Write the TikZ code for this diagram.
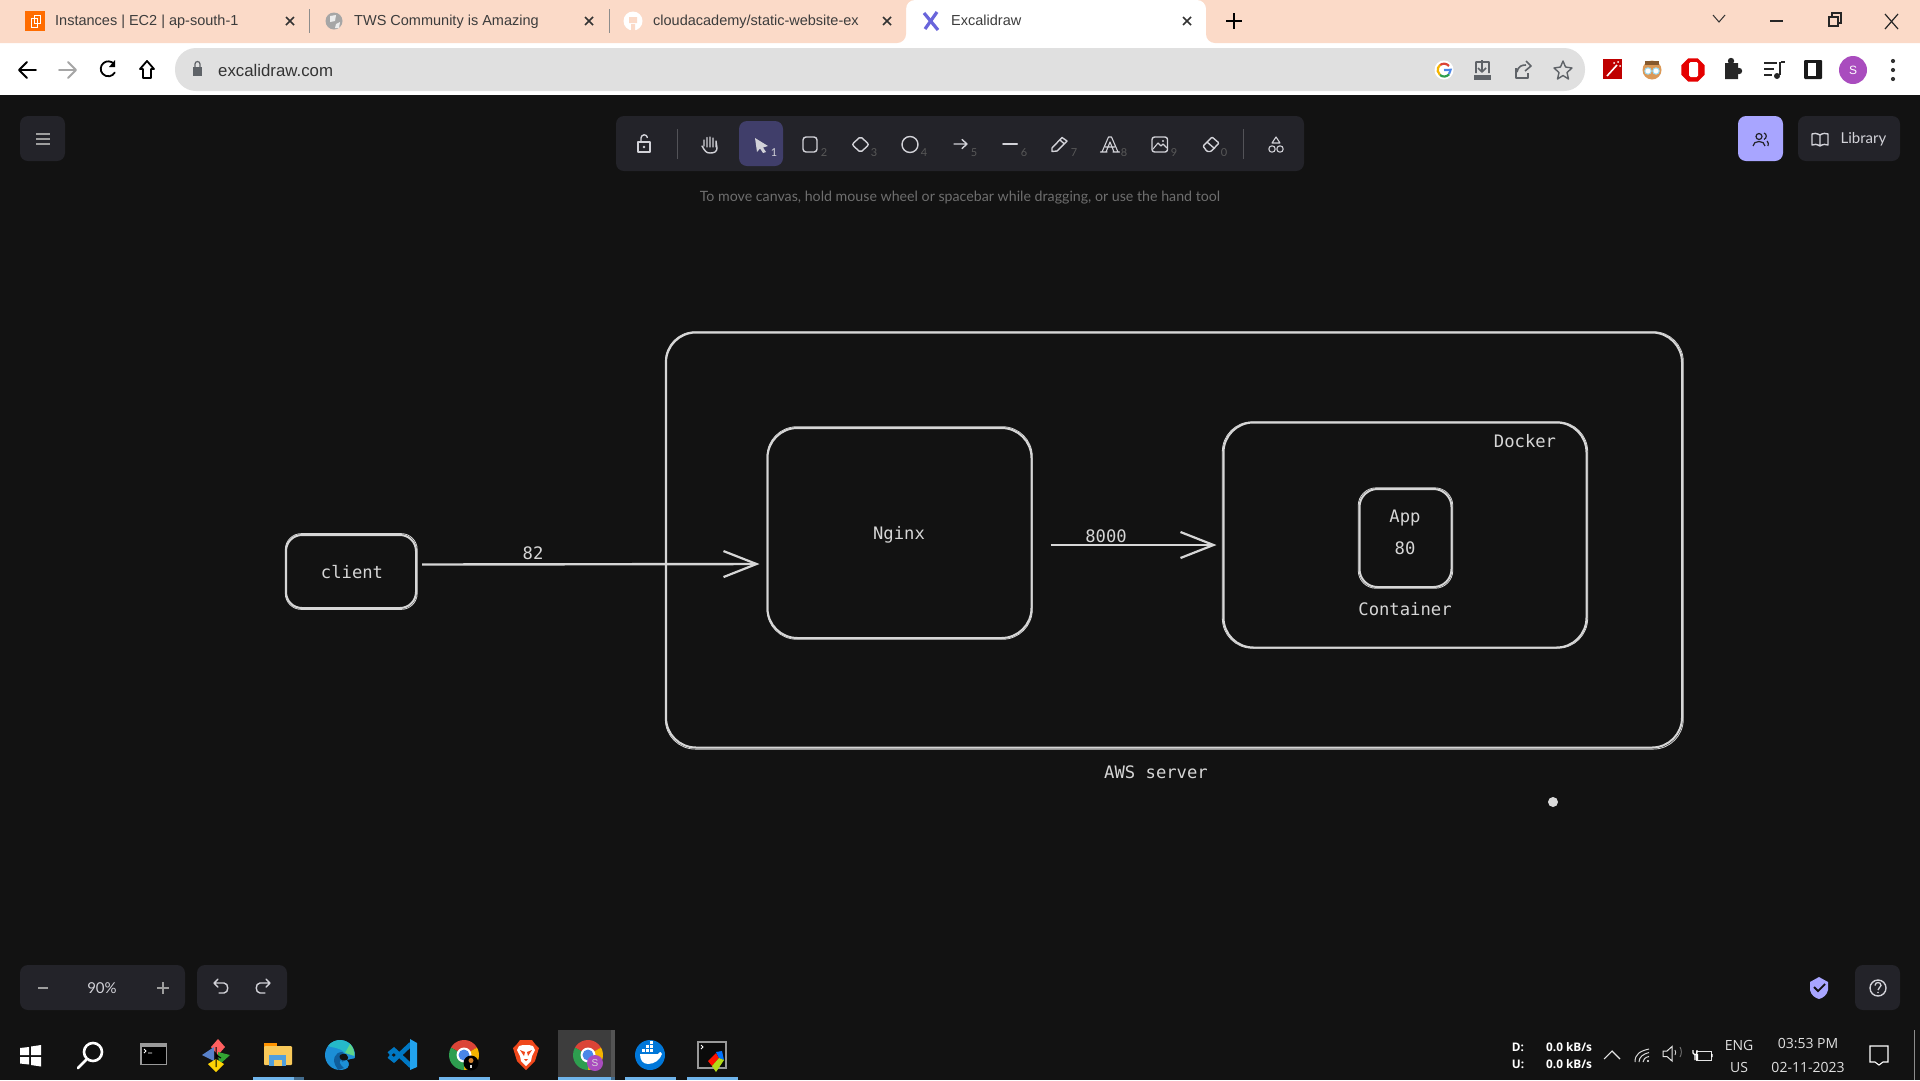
\documentclass[tikz,border=0pt]{standalone}
\usepackage{fontspec}
\setmainfont{Liberation Sans}
\newfontfamily\monof{DejaVu Sans Mono}
\newfontfamily\latof{Lato}
\newfontfamily\opf{Open Sans}
\usetikzlibrary{arrows.meta,calc,shapes.geometric}
\definecolor{bg}{HTML}{121212}
\definecolor{ink}{HTML}{D6D6D6}
\definecolor{peach}{HTML}{FBDAC8}
\definecolor{pill}{HTML}{E0E0E0}
\definecolor{panel}{HTML}{232329}
\definecolor{active}{HTML}{403E6A}
\definecolor{lav}{HTML}{A8A5FF}
\definecolor{hint}{HTML}{6E6E6E}
\definecolor{tool}{HTML}{D2D2D8}
\definecolor{tabtxt}{HTML}{3C3C3C}
\definecolor{chrm}{HTML}{5F6368}
\definecolor{tbline}{HTML}{6FB4EA}
\definecolor{gblue}{HTML}{4A86E8}
\definecolor{gred}{HTML}{DB4437}
\definecolor{gyel}{HTML}{F4B400}
\definecolor{ggrn}{HTML}{2E9E4F}
\definecolor{excal}{HTML}{6965DB}
\definecolor{purp}{HTML}{A94CBE}
\definecolor{bravec}{HTML}{F0481C}
\definecolor{folderc}{HTML}{F8C95A}
\definecolor{folderb}{HTML}{4F9FDD}
\definecolor{edgeb}{HTML}{1C8FD6}
\definecolor{edged}{HTML}{0F5E9C}
\definecolor{edgeg}{HTML}{5FD58A}
\definecolor{edgec}{HTML}{25B9C9}
\definecolor{vsd}{HTML}{0078C4}
\definecolor{vsl}{HTML}{22A3EE}
\tikzset{
  x=1pt,y=-1pt,
  sketch/.style={draw=ink,line width=2pt,rectangle,inner sep=0pt},
  overstroke/.style={draw=ink,line width=0.8pt},
  flow/.style={draw=ink,line width=2.4pt,-{Straight Barb[length=33pt,width=26pt,line width=2.2pt]}},
  hand/.style={text=ink,inner sep=0pt,font=\monof\fontsize{17.2}{20}\selectfont},
  tabt/.style={text=tabtxt,inner sep=0pt,anchor=west,text height=11pt,text depth=3pt,font=\fontsize{14.5}{17}\selectfont},
  hintt/.style={text=hint,inner sep=0pt,font=\latof\fontsize{14.2}{17}\selectfont},
  digit/.style={text=hint!115,inner sep=0pt,font=\latof\fontsize{11}{13}\selectfont},
  uit/.style={text=tool,inner sep=0pt,font=\latof\fontsize{15}{18}\selectfont},
  taskt/.style={text=white!88!black,inner sep=0pt,font=\opf\fontsize{14}{17}\selectfont},
  netw/.style={text=white,inner sep=0pt,font=\opf\bfseries\fontsize{11.8}{14}\selectfont},
  ticon/.style={draw=tool,line width=1.4pt,line join=round,line cap=round},
  cicon/.style={draw=chrm,line width=1.6pt,line join=round},
  kicon/.style={draw=black,line width=1.8pt,line join=round,line cap=round},
  panelbox/.style={fill=panel,rounded corners=8pt},
  xmark/.style={draw=black!80,line width=1.7pt},
}
\newcommand{\chromeIcon}{%
  \fill[gred] (0,0) -- (150:15pt) arc[start angle=150,end angle=30,radius=15pt] -- cycle;
  \fill[gyel] (0,0) -- (30:15pt) arc[start angle=30,end angle=-90,radius=15pt] -- cycle;
  \fill[ggrn] (0,0) -- (-90:15pt) arc[start angle=-90,end angle=-210,radius=15pt] -- cycle;
  \fill[white] (0,0) circle[radius=7.5pt];
  \fill[gblue] (0,0) circle[radius=5.5pt];
}
\newcommand{\tabX}[1]{\draw[xmark] (#1-4,17) -- (#1+4,25) (#1-4,25) -- (#1+4,17);}
\begin{document}
\begin{tikzpicture}
\clip (0,0) rectangle (1920,1080);
\fill[bg] (0,0) rectangle (1920,1080);
% ---------- browser chrome
\fill[white] (0,0) rectangle (1920,95);
\fill[peach] (895,0) rectangle (920,12);
\fill[peach] (1195,0) rectangle (1215,12);
\fill[white,rounded corners=9pt] (906,0) rectangle (1206,60);
\fill[peach,rounded corners=9pt] (-20,-20) rectangle (906,43);
\fill[peach,rounded corners=9pt] (1206,-20) rectangle (1940,43);
\fill[pill,rounded corners=21pt] (175,48) rectangle (1585,91);
\draw[black!45,line width=.8pt] (309,9) -- (309,33) (609,9) -- (609,33);
% tab icons
\fill[orange!85!red] (25,11) rectangle (45,31);
\draw[white,line width=1pt] (31,18) rectangle (37,27) (34,15) rectangle (40,23);
\fill[gray!70] (334,21) circle[radius=8.5pt];
\fill[white!85!gray] (330,16) -- (336,15) -- (335,21) -- (330,22) -- cycle (336,24) -- (340,22) -- (339,28) -- (335,28) -- cycle;
\fill[white] (633,21) circle[radius=9.5pt];
\fill[peach] (629,17) rectangle (637,23) (631,24) rectangle (635,31);
\draw[color=excal,line width=3.2pt] (924,13) -- (938,30);
\draw[color=excal,line width=3.2pt] (937,12) -- (925,29);
% tab titles
\node[tabt] (tab1) at (55,21) {Instances | EC2 | ap-south-1};
\node[tabt] (tab2) at (354,21) {TWS Community is Amazing};
\node[tabt] (tab3) at (653,21) {cloudacademy/static-website-ex};
\node[tabt] (tab4) at (951,21) {Excalidraw};
\tabX{290}\tabX{589}\tabX{887}\tabX{1187}
\draw[black,line width=2.4pt] (1226,21) -- (1242,21) (1234,13) -- (1234,29);
% window controls
\draw[black!80,line width=1pt] (1713,15) -- (1719,22) -- (1725,15);
\draw[black!85,line width=1.4pt] (1770,21) -- (1783,21);
\draw[black!85,line width=1.2pt] (1829,17) rectangle (1838,26) (1832,17) -- (1832,13) -- (1841,13) -- (1841,23) -- (1838,23);
\draw[black!85,line width=1.2pt] (1885,14) -- (1898,29) (1898,14) -- (1885,29);
% nav
\draw[kicon] (36,70) -- (20,70) (27,62) -- (19,70) -- (27,78);
\draw[draw=gray!70,line width=1.8pt,line join=round,line cap=round] (59,70) -- (75,70) (68,62) -- (76,70) -- (68,78);
\draw[kicon] (114,64) arc[start angle=40,end angle=330,radius=7.5pt];
\fill[black] (115,60) -- (115,67) -- (109,67) -- cycle;
\draw[kicon] (147,61) -- (140,69) -- (143,69) -- (143,78) -- (151,78) -- (151,69) -- (154,69) -- cycle;
\fill[chrm] (193,67) rectangle (202,76);
\draw[chrm,line width=1.2pt] (195,67) -- (195,64) arc[start angle=180,end angle=0,radius=2.5pt] -- (200,67);
\node[inner sep=0pt,anchor=west,text=black!80,font=\fontsize{16.8}{20}\selectfont] (url) at (218,70) {excalidraw.com};
% address bar right
\fill[white] (1444,70) circle[radius=9.5pt];
\draw[gred,line width=2.2pt] (1449,66) arc[start angle=40,end angle=130,radius=6.5pt];
\draw[gyel,line width=2.2pt] (1440,65) arc[start angle=130,end angle=230,radius=6.5pt];
\draw[ggrn,line width=2.2pt] (1440,75) arc[start angle=230,end angle=320,radius=6.5pt];
\draw[gblue,line width=2.2pt] (1449,74) arc[start angle=320,end angle=360,radius=6.5pt] -- (1444,70);
\draw[cicon] (1476,73) -- (1476,62) -- (1489,62) -- (1489,73) (1482,60) -- (1482,72) (1478,68) -- (1482,72) -- (1486,68);
\fill[chrm] (1474,75) rectangle (1491,80);
\draw[cicon] (1516,68) -- (1516,78) -- (1528,78) -- (1528,73) (1517,72) .. controls (1518,66) and (1522,65) .. (1526,65) (1526,61) -- (1531,66) -- (1525,71);
\draw[cicon,line width=1.4pt] (1563,61) -- (1565.5,67) -- (1572,68) -- (1567,72.5) -- (1568.5,79) -- (1563,75.5) -- (1557.5,79) -- (1559,72.5) -- (1554,68) -- (1560.5,67) -- cycle;
% extensions
\fill[red!75!black] (1603,59) rectangle (1622,79);
\draw[white,line width=1.6pt] (1607,76) -- (1617,65);
\fill[white] (1618,62) circle[radius=1pt] (1614,63) circle[radius=1pt] (1620,66) circle[radius=1pt];
\fill[brown!70!orange!80] (1652,70) circle[radius=9.5pt];
\fill[brown!70!black] (1645,61) rectangle (1659,65);
\draw[cyan!40,fill=white,line width=1pt] (1648,71) circle[radius=3.2pt] (1656,71) circle[radius=3.2pt];
\node[regular polygon,regular polygon sides=8,fill=red!90!black,minimum size=25pt,inner sep=0pt] (stopicon) at (1693,70) {};
\fill[white,rounded corners=1.5pt] (1689,62) rectangle (1698,77);
\fill[black!85] (1725,63) rectangle (1738,79) (1731,61) circle[radius=3.2pt] (1739,71) circle[radius=3.2pt];
\draw[black!85,line width=1.8pt] (1764,63) -- (1777,63) (1764,69) -- (1774,69) (1764,75) -- (1772,75) (1780,62) -- (1780,75);
\fill[black!85] (1777,76) circle[radius=3pt];
\draw[black!85,line width=2pt] (1781,62) -- (1785,62);
\fill[black!90,rounded corners=1pt] (1804,60) rectangle (1822,79);
\fill[white] (1808,63) rectangle (1816,76);
\fill[purp] (1853,70) circle[radius=14pt];
\node[text=white,inner sep=0pt,font=\fontsize{12}{14}\selectfont] (avatar) at (1853,70) {S};
\fill[black!80] (1893,61) circle[radius=2.1pt] (1893,70) circle[radius=2.1pt] (1893,79) circle[radius=2.1pt];
% ---------- excalidraw UI
\fill[panelbox] (20,116) rectangle (65,161);
\draw[white!62!black,line width=2pt] (36,134) -- (50,134) (36,139) -- (50,139) (36,144) -- (50,144);
\fill[panelbox] (616,116) rectangle (1304,171);
\fill[active,rounded corners=8pt] (739,121) rectangle (783,166);
\draw[white!22!panel,line width=.8pt] (677,129) -- (677,159) (1243,129) -- (1243,159);
% lock
\draw[ticon] (638,142) rectangle (650,152);
\draw[ticon] (641,142) -- (641,138) arc[start angle=180,end angle=10,radius=3.2pt];
\fill[tool] (644,147) circle[radius=1.4pt];
% hand
\draw[ticon] (704,146) -- (704,140) (707,147) -- (707,137.5) (710,147) -- (710,137) (713,147) -- (713,138) (716,147) -- (716,141) -- (717,148) .. controls (717,152) and (714,153) .. (710,153) .. controls (706,153) and (705,151) .. (702,146);
% pointer
\fill[tool] (755,138) -- (768,146) -- (763,147.5) -- (766,152) -- (763,153) -- (760,148.5) -- (757,152) -- cycle;
% rect
\draw[ticon,rounded corners=3pt] (803,137) rectangle (817,152);
% diamond
\draw[ticon,rounded corners=2pt] (860.5,136.5) -- (869,144.5) -- (860.5,152.5) -- (852,144.5) -- cycle;
% circle
\draw[ticon] (910,144.5) circle[radius=8pt];
% arrow
\draw[ticon] (954,144) -- (967,144) (962,139.5) -- (967,144) -- (962,148.5);
% line
\draw[ticon,line width=2pt] (1003,144) -- (1017,144);
% pencil
\draw[ticon] (1052,148) -- (1062,137.5) -- (1067,141) -- (1057,151) -- (1052,151.5) -- cycle (1060,140) -- (1064.5,144);
% A
\draw[ticon,line width=1.1pt] (1102,152) -- (1108.5,137) -- (1111.5,137) -- (1118,152) (1106,152) -- (1110,142) -- (1114,152) (1105.5,147) -- (1114.5,147) (1100.5,152) -- (1107,152) (1113,152) -- (1119.5,152);
% image
\draw[ticon,rounded corners=2.5pt] (1152,137) rectangle (1167.5,152);
\draw[ticon,line width=1.1pt] (1153,149) -- (1158,143) -- (1161,146) -- (1163,144) -- (1167,148);
\fill[tool] (1163,141) circle[radius=1.1pt];
% eraser
\draw[ticon,rounded corners=1pt] (1203,146) -- (1212,137) -- (1219,143) -- (1211,151.5) -- (1207,151.5) -- cycle (1207,142) -- (1214.5,148.5);
% shapes
\draw[ticon,line width=1.1pt] (1276,137) -- (1272,143) -- (1280,143) -- cycle (1272,149) circle[radius=3.2pt] (1280,149) circle[radius=3.2pt];
% shortcut digits
\node[digit,text=tool] (d1) at (774,153) {1};
\foreach \dx/\dg in {824/2,874/3,924/4,974/5,1024/6,1074/7,1124/8,1174/9,1224/0}
  \node[digit] (d\dg) at (\dx,153) {\dg};
\node[hintt] (hinttext) at (960,197.5) {To move canvas, hold mouse wheel or spacebar while dragging, or use the hand tool};
% collab + library
\fill[lav,rounded corners=8pt] (1738,116) rectangle (1783,161);
\draw[panel,line width=1.2pt] (1759,136.5) circle[radius=3pt] (1753,146) .. controls (1753,140) and (1765,140) .. (1765,146) (1764,133) .. controls (1767,134) and (1767,138) .. (1764,139.5) (1767,141) .. controls (1769,142) and (1768,144) .. (1768,146);
\fill[panelbox] (1798,116) rectangle (1900,161);
\draw[ticon] (1820,135) .. controls (1816,133) and (1814,133) .. (1812,134) -- (1812,145) .. controls (1814,144) and (1817,144) .. (1820,146) .. controls (1823,144) and (1826,144) .. (1828,145) -- (1828,134) .. controls (1826,133) and (1823,133) .. (1820,135) -- (1820,146);
\node[uit] (library) at (1863.5,139.5) {Library};
% zoom / undo
\fill[panelbox] (20,965) rectangle (185,1010);
\fill[panelbox] (197,965) rectangle (287,1010);
\draw[white!62!black,line width=1.5pt] (38,988) -- (48,988) (157,988) -- (169,988) (163,982) -- (163,994);
\node[uit] (zoompct) at (102,988) {90\%};
\draw[ticon] (214,983) -- (224,983) .. controls (229,983) and (229,993) .. (224,993) -- (219,993) (218,979) -- (214,983) -- (218,987);
\draw[ticon] (270,983) -- (260,983) .. controls (255,983) and (255,993) .. (260,993) -- (265,993) (266,979) -- (270,983) -- (266,987);
\fill[panelbox] (1855,965) rectangle (1900,1010);
\draw[ticon] (1878,988) circle[radius=8pt];
\draw[tool,line width=1.3pt] (1875,985.5) .. controls (1875,981.5) and (1881,981.5) .. (1881,985.5) .. controls (1881,987.5) and (1878,987.5) .. (1878,990);
\fill[tool] (1878,992.5) circle[radius=.9pt];
\fill[lav] (1810,982) -- (1819,977) -- (1828,982) -- (1828,990) .. controls (1827,995) and (1823,998) .. (1819,999) .. controls (1815,998) and (1811,995) .. (1810,990) -- cycle;
\draw[bg,line width=1.8pt] (1814,987) -- (1818,991) -- (1825,984);
% ---------- diagram
\node[sketch,rounded corners=30pt,minimum width=1016pt,minimum height=415pt] (aws) at (1174,540) {};
\node[sketch,rounded corners=16pt,minimum width=130pt,minimum height=73pt] (client) at (351,571.5) {};
\node[sketch,rounded corners=30pt,minimum width=264pt,minimum height=210pt] (nginx) at (899.5,533) {};
\node[sketch,rounded corners=30pt,minimum width=363pt,minimum height=225pt] (docker) at (1405,535) {};
\node[sketch,rounded corners=18pt,minimum width=92pt,minimum height=98pt] (app) at (1405.5,538) {};
% pencil double strokes
\draw[overstroke,rounded corners=30pt] ([shift={(0.3,0.2)}]aws.north west) rectangle ([shift={(0.3,0.6)}]aws.south east);
\draw[overstroke,rounded corners=30pt] ([shift={(0.5,-0.3)}]nginx.north west) rectangle ([shift={(-0.2,0.3)}]nginx.south east);
\draw[overstroke,rounded corners=30pt] ([shift={(-0.2,0.3)}]docker.north west) rectangle ([shift={(0.2,-0.3)}]docker.south east);
\draw[overstroke,rounded corners=16pt] ([shift={(0.3,-0.4)}]client.north west) rectangle ([shift={(0.2,0.4)}]client.south east);
\draw[overstroke,rounded corners=18pt] ([shift={(-0.3,-0.2)}]app.north west) rectangle ([shift={(0.3,0.3)}]app.south east);
% labels
\node[hand] (clientlbl) at (352,572) {client};
\node[hand] (nginxlbl) at (899,535) {Nginx};
\node[hand] (dockerlbl) at (1525,441) {Docker};
\node[hand] (applbl) at (1405,518) {App};
\node[hand] (portlbl) at (1405,548) {80};
\node[hand] (contlbl) at (1405,609) {Container};
\node[hand] (awslbl) at (1156,772) {AWS server};
\node[hand] (l82) at (533,553) {82};
\node[hand] (l8000) at (1106,536) {8000};
% connectors
\draw[flow] ([shift={(5,-7)}]client.east) -- ([shift={(-7,31)}]nginx.west);
\draw[flow] ([shift={(18,12)}]nginx.east) -- ([shift={(-6,10)}]docker.west);
% stray cursor dot
\fill[ink!90!white] (1553,802) circle[radius=5pt];
% ---------- taskbar
\fill[white!18!bg] (558,1030) rectangle (615,1080);
\fill[white!28!bg] (611,1030) rectangle (615,1080);
\foreach \xa/\xb in {253/294,439/490,558/611,625/676,687/738}
  \fill[tbline] (\xa,1077) rectangle (\xb,1080);
\fill[tbline!60!black] (294,1077) rectangle (304,1080);
\fill[tbline!60!black] (611,1077) rectangle (615,1080);
% windows
\fill[white] (20,1048) -- (29,1047) -- (29,1055) -- (20,1055) -- cycle
 (31,1046.5) -- (41,1045) -- (41,1055) -- (31,1055) -- cycle
 (20,1057) -- (29,1057) -- (29,1064.5) -- (20,1063.5) -- cycle
 (31,1057) -- (41,1057) -- (41,1066.5) -- (31,1065) -- cycle;
% search
\draw[white,line width=2.6pt] (93,1052) circle[radius=9pt];
\draw[white,line width=2.8pt,line cap=round] (86,1060) -- (78,1068);
% terminal
\fill[gray!80] (140,1043) rectangle (167,1065);
\fill[black] (141.5,1047) rectangle (165.5,1064);
\draw[white,line width=.8pt] (144,1049) -- (146,1051) -- (144,1053) (148,1053) -- (152,1053);
% git tool
\begin{scope}[shift={(216,1055)}]
\fill[red!50!pink] (2,-16) -- (9,-8) -- (2,0) -- (-5,-8) -- cycle;
\fill[cyan!40!blue!70!white] (-2,-8) -- (-2,6) -- (-14,0) -- cycle;
\fill[green!55!black!80] (2,-3) -- (14,0) -- (3,10) -- cycle;
\fill[yellow!70!orange] (0,4) -- (8,9) -- (0,17) -- (-8,9) -- cycle;
\draw[black,line width=1pt] (0,-8) -- (0,12) (0,0) -- (5,3);
\end{scope}
% folder
\fill[orange!85!yellow] (264,1043) rectangle (277,1050);
\fill[folderc,rounded corners=1pt] (264,1046) rectangle (292,1065);
\fill[folderb] (269,1055) rectangle (286,1066);
\fill[folderc] (274,1060) rectangle (282,1066);
% edge
\fill[edgeb] (340,1055) circle[radius=15pt];
\fill[edgec] (328,1046) arc[start angle=143,end angle=40,radius=15pt] -- (345,1053) .. controls (340,1047) and (332,1048) .. cycle;
\fill[edgeg] (350,1044) arc[start angle=45,end angle=-5,radius=15pt] -- (345,1053) -- cycle;
\fill[edged] (337,1068) .. controls (331,1060) and (335,1052) .. (342,1052) .. controls (345,1052) and (346,1055) .. (346,1058) .. controls (344,1062) and (341,1063) .. (342,1060) .. controls (339,1060) and (338,1063) .. (344,1068) -- (338,1070) -- cycle;
\fill[bg] (343,1054) .. controls (339,1054) and (338,1058) .. (342,1060) .. controls (346,1061) and (351,1060) .. (346,1054) -- cycle;
\fill[bg] (347,1060) -- (356,1058) -- (356,1070) -- (345,1070) .. controls (350,1067) and (350,1063) .. (347,1060) -- cycle;
% vscode
\draw[vsd,line width=4.6pt] (411,1044) -- (394,1060) -- (389,1056) (411,1066) -- (394,1050) -- (389,1054);
\fill[vsl] (410,1039) -- (417,1043) -- (417,1067) -- (410,1070) -- cycle;
% chromes
\begin{scope}[shift={(464,1055)}]\chromeIcon
\fill[black] (7,8) circle[radius=7.5pt];
\fill[brown!70!orange] (7,5.5) circle[radius=2.5pt];
\fill[white!70!gray] (6,10) rectangle (8,13);
\end{scope}
% brave
\fill[bravec] (517,1044) -- (520,1040) -- (532,1040) -- (535,1044) -- (539,1048) -- (535,1061) -- (526,1070) -- (517,1061) -- (513,1048) -- cycle;
\fill[white] (519,1046) -- (523,1045) -- (529,1045) -- (533,1046) -- (535,1050) -- (532,1056) -- (531,1061) -- (526,1066) -- (521,1061) -- (520,1056) -- (517,1050) -- cycle;
\fill[bravec] (520,1050) -- (525,1052) -- (524,1056) -- cycle (532,1050) -- (527,1052) -- (528,1056) -- cycle (524,1059) -- (528,1059) -- (526,1061) -- cycle;
\begin{scope}[shift={(588,1055)}]\chromeIcon
\fill[purp] (7,8) circle[radius=8pt];
\node[text=white!85!black,inner sep=0pt,font=\fontsize{10}{12}\selectfont] (badge) at (7,8) {S};
\end{scope}
% docker
\fill[blue!45!cyan!85!black] (650,1055) circle[radius=15pt];
\fill[white] (640,1054) -- (658,1054) .. controls (660,1051) and (662,1052) .. (662,1054) .. controls (660,1060) and (654,1064) .. (648,1064) .. controls (643,1064) and (640,1060) .. (640,1054) -- cycle;
\foreach \bx/\by in {642/1049,646/1049,650/1049,646/1045,650/1045,650/1041}
  \fill[white] (\bx,\by) rectangle ++(3,3);
% terminal + prism
\fill[gray!80] (697,1041) rectangle (727,1069);
\fill[bg!60!black] (699,1043) rectangle (725,1067);
\draw[white,line width=.8pt] (701,1045) -- (703,1047) -- (701,1049);
\fill[red!85!orange] (708,1061) -- (716,1053) -- (719,1058) -- (712,1066) -- cycle;
\fill[blue!55!cyan] (716,1052) -- (722,1051) -- (724,1060) -- (719,1058) -- cycle;
\fill[yellow!70!green] (712,1066) -- (719,1058) -- (724,1060) -- (716,1072) -- cycle;
% tray
\node[netw] (dl) at (1518,1047) {D:};
\node[netw] (ul) at (1518,1064) {U:};
\node[netw,anchor=west] (dlv) at (1546,1047) {0.0 kB/s};
\node[netw,anchor=west] (ulv) at (1546,1064) {0.0 kB/s};
\draw[white!90!black,line width=1.1pt] (1604,1059) -- (1612,1051) -- (1620,1059);
\draw[white!85!black,line width=1pt] (1635,1062) .. controls (1635,1054) and (1640,1051) .. (1649,1049) (1639,1062) .. controls (1639,1057) and (1643,1054) .. (1649,1052.5) (1643,1062) .. controls (1643,1060) and (1645,1057) .. (1649,1056.5);
\fill[white] (1648,1061) circle[radius=1.2pt];
\draw[white!90!black,line width=1pt] (1663,1051) -- (1667,1051) -- (1672,1046.5) -- (1672,1061) -- (1667,1056.5) -- (1663,1056.5) -- cycle;
\draw[white!80!black,line width=.9pt] (1675,1050) arc[start angle=30,end angle=-30,radius=5pt];
\draw[white!45!black,line width=.9pt] (1680,1047) arc[start angle=30,end angle=-30,radius=10pt];
\draw[white!90!black,line width=1pt] (1696,1051) rectangle (1711,1060);
\fill[white] (1696,1054) rectangle (1698,1060) (1711,1054) rectangle (1712.5,1057);
\draw[white,line width=1.1pt] (1693,1050) -- (1693,1053) -- (1695,1055) -- (1697,1053) -- (1697,1050) (1695,1055) -- (1695,1060);
\node[taskt] (eng) at (1739,1045) {ENG};
\node[taskt] (us) at (1739,1067) {US};
\node[taskt] (clock) at (1808,1044) {03:53 PM};
\node[taskt] (date) at (1808,1067) {02-11-2023};
\draw[white,line width=1.1pt] (1870,1046) -- (1888,1046) -- (1888,1062) -- (1883,1062) -- (1879,1065) -- (1875,1062) -- (1870,1062) -- cycle;
\draw[white!55!black,line width=.9pt] (1914,1030) -- (1914,1080);
\end{tikzpicture}
\end{document}
